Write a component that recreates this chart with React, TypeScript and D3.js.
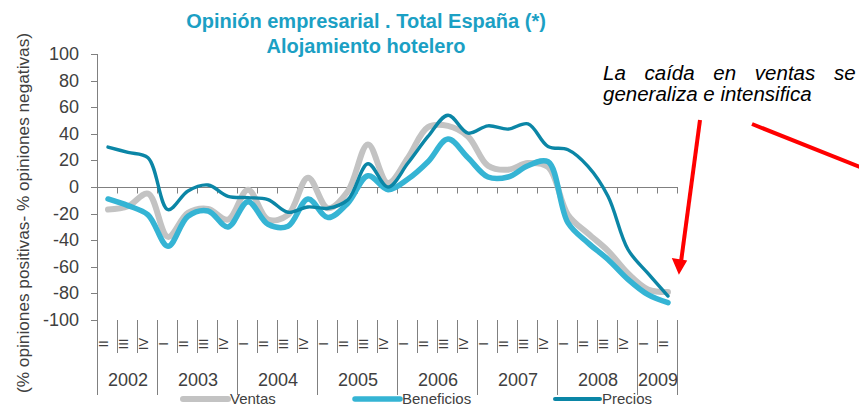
import React, { useRef, useEffect } from 'react';
import * as d3 from 'd3';

// quarters from 2002-II to 2009-II
const quarterLabels = [
    'II', 'III', 'IV',
    'I', 'II', 'III', 'IV',
    'I', 'II', 'III', 'IV',
    'I', 'II', 'III', 'IV',
    'I', 'II', 'III', 'IV',
    'I', 'II', 'III', 'IV',
    'I', 'II', 'III', 'IV',
    'I', 'II',
];
const years = ['2002', '2003', '2004', '2005', '2006', '2007', '2008', '2009'];
const quartersPerYear = [3, 4, 4, 4, 4, 4, 4, 2];

const ventas = [-17, -14.5, -5, -37.5, -19.5, -16.5, -24.5, -2, -24.5, -21, 7, -16, -3, 32, 3, 22, 45, 46, 38, 16, 13, 18, 15, -21, -35, -48, -65, -77, -79];
const beneficios = [-9, -14, -21, -44.5, -22, -18, -30, -11, -28, -29.5, -9, -23, -12, 8.5, -2, 6, 19, 36, 22, 7.5, 7.5, 16, 19, -27, -42, -54.5, -69.5, -81, -87];
const precios = [30, 26, 22, -17, -3, 1.5, -7, -8, -9.5, -19, -15, -16, -9.5, 17.5, 0, 18, 38, 54, 40.5, 46, 43.5, 47.5, 30.5, 28, 15.5, -7, -47, -65, -82];

const yTicks = [100, 80, 60, 40, 20, 0, -20, -40, -60, -80, -100];

const FONT = '"Liberation Sans", Arial, sans-serif';
const TEXT = '#404040';
const AXIS = '#808080';

const series = [
    { name: 'Ventas', values: ventas, color: '#C3C3C3', width: 6, legendWidth: 6, legendX: 183 },
    { name: 'Beneficios', values: beneficios, color: '#35B4D4', width: 5.5, legendWidth: 5.5, legendX: 355 },
    { name: 'Precios', values: precios, color: '#0B86A6', width: 3.4, legendWidth: 4, legendX: 555 },
];

function Chart() {
    const svgRef = useRef<SVGSVGElement>(null);
    const width = 859;
    const height = 407;

    useEffect(() => {
        if (!svgRef.current) return;
        const svg = d3.select(svgRef.current);
        svg.selectAll('*').remove();

        const x = d3.scaleBand<number>().domain(d3.range(quarterLabels.length)).range([98, 678]).padding(0);
        const bw = x.bandwidth();
        const y = d3.scaleLinear().domain([-100, 100]).range([320, 54]);
        const cx = (i: number) => (x(i) as number) + bw / 2;
        const edge = (i: number) => x(0)! + i * bw - 0.5;

        // title
        const title = svg.append('g').attr('font-family', FONT).attr('font-weight', 'bold')
            .attr('font-size', 20).attr('fill', '#1BA0C4').attr('text-anchor', 'middle');
        title.append('text').attr('x', 366).attr('y', 28).text('Opinión empresarial . Total España (*)');
        title.append('text').attr('x', 366).attr('y', 53).text('Alojamiento hotelero');

        // y axis title
        svg.append('text')
            .attr('transform', `translate(29,213) rotate(-90)`)
            .attr('text-anchor', 'middle')
            .attr('font-family', FONT).attr('font-size', 16).attr('fill', TEXT)
            .attr('textLength', 360).attr('lengthAdjust', 'spacingAndGlyphs')
            .text('(% opiniones positivas- % opiniones negativas)');

        // y axis
        const axisX = 97.5;
        svg.append('line').attr('x1', axisX).attr('x2', axisX).attr('y1', y(100)).attr('y2', 395)
            .attr('stroke', AXIS).attr('stroke-width', 1);
        const yt = svg.append('g');
        yt.selectAll('line').data(yTicks).enter().append('line')
            .attr('x1', 91).attr('x2', axisX)
            .attr('y1', d => Math.round(y(d)) + 0.5).attr('y2', d => Math.round(y(d)) + 0.5)
            .attr('stroke', AXIS);
        yt.selectAll('text').data(yTicks).enter().append('text')
            .attr('x', 79).attr('y', d => y(d) + 6)
            .attr('text-anchor', 'end').attr('font-family', FONT).attr('font-size', 18).attr('fill', TEXT)
            .text(d => d);

        // x axis at zero
        const y0 = Math.round(y(0)) + 0.5;
        svg.append('line').attr('x1', axisX).attr('x2', 678).attr('y1', y0).attr('y2', y0).attr('stroke', AXIS);
        svg.append('g').selectAll('line').data(d3.range(1, quarterLabels.length + 1)).enter().append('line')
            .attr('x1', edge).attr('x2', edge)
            .attr('y1', y0).attr('y2', y0 + 6).attr('stroke', AXIS);

        // category label area
        const cat = svg.append('g');
        cat.selectAll('line.q').data(d3.range(1, quarterLabels.length + 1)).enter().append('line')
            .attr('x1', edge).attr('x2', edge)
            .attr('y1', 320).attr('y2', 353).attr('stroke', AXIS);
        cat.selectAll('text.q').data(quarterLabels).enter().append('text')
            .attr('transform', (d, i) => `translate(${(x(i) as number) + 9.5},344) rotate(-90)`)
            .attr('text-anchor', 'middle').attr('font-family', FONT).attr('font-size', 13).attr('fill', TEXT)
            .text(d => d);

        const starts = quartersPerYear.map((n, i) => d3.sum(quartersPerYear.slice(0, i)));
        const bounds = [...starts, quarterLabels.length];
        cat.selectAll('line.y').data(bounds).enter().append('line')
            .attr('x1', edge).attr('x2', edge)
            .attr('y1', 320).attr('y2', 395).attr('stroke', AXIS);
        cat.selectAll('text.y').data(years).enter().append('text')
            .attr('x', (d, i) => x(0)! + (starts[i] + quartersPerYear[i] / 2) * bw)
            .attr('y', 386)
            .attr('text-anchor', 'middle').attr('font-family', FONT).attr('font-size', 18).attr('fill', TEXT)
            .text(d => d);

        // lines
        const line = d3.line<number>()
            .x((d, i) => cx(i))
            .y(d => y(d))
            .curve(d3.curveCatmullRom.alpha(0.5));
        series.forEach(s => {
            svg.append('path').datum(s.values)
                .attr('fill', 'none').attr('stroke', s.color).attr('stroke-width', s.width)
                .attr('stroke-linejoin', 'round').attr('stroke-linecap', 'round')
                .attr('d', line);
        });

        // legend
        const lg = svg.append('g');
        series.forEach(s => {
            lg.append('line').attr('x1', s.legendX).attr('x2', s.legendX + 45).attr('y1', 399).attr('y2', 399)
                .attr('stroke', s.color).attr('stroke-width', s.legendWidth)
                .attr('stroke-linecap', 'round');
            lg.append('text').attr('x', s.legendX + 47).attr('y', 404)
                .attr('font-family', FONT).attr('font-size', 15).attr('fill', TEXT)
                .text(s.name);
        });

        // annotation, first line justified by word spacing
        const note = svg.append('g').attr('font-family', FONT).attr('font-style', 'italic')
            .attr('font-size', 20.5).attr('fill', '#000');
        note.append('text').attr('x', 603).attr('y', 80)
            .attr('word-spacing', 13)
            .text('La caída en ventas se');
        note.append('text').attr('x', 603).attr('y', 101).text('generaliza e intensifica');

        const red = '#FF0000';
        svg.append('line').attr('x1', 700).attr('y1', 120).attr('x2', 681).attr('y2', 262)
            .attr('stroke', red).attr('stroke-width', 4);
        svg.append('path').attr('d', 'M673,259 L679,273 L686,261 Z').attr('fill', red).attr('stroke', red).attr('stroke-width', 1.5);
        svg.append('line').attr('x1', 752).attr('y1', 124).attr('x2', 870).attr('y2', 171)
            .attr('stroke', red).attr('stroke-width', 4);
    }, []);

    return <svg ref={svgRef} width={width} height={height} style={{ position: 'absolute', left: 0, top: 0, background: '#fff' }} />;
}

export default function App() {
    return <Chart />;
}
